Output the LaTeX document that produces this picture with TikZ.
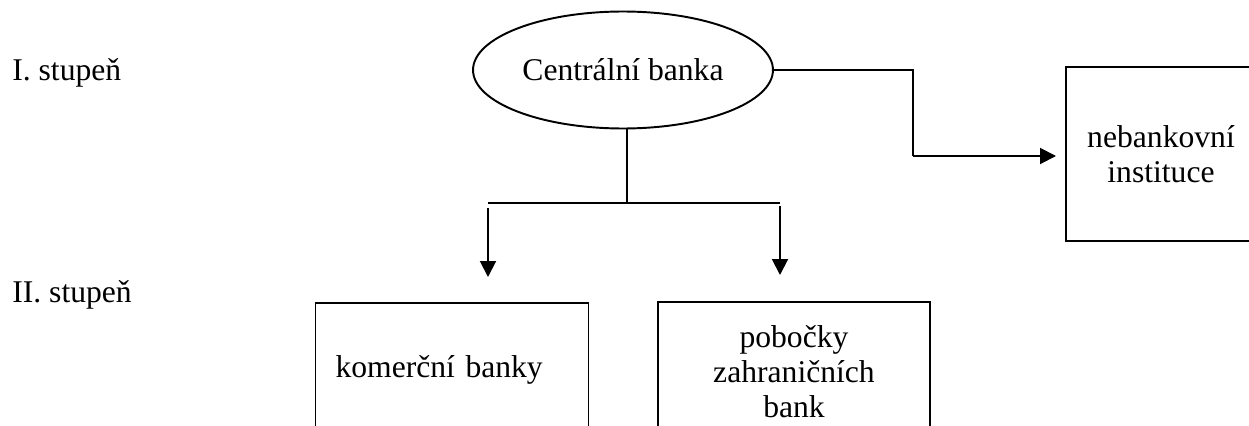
\documentclass[tikz,border=0pt]{standalone}
\usepackage{fontspec}
\setmainfont{Liberation Serif}
\usepackage{tikz}
\usetikzlibrary{shapes.geometric,arrows.meta,positioning,calc}

\tikzset{
  box/.style={draw, line width=1.1pt, outer sep=0pt, inner sep=0pt, align=center,
              font=\fontsize{18}{20}\selectfont},
  lbl/.style={inner sep=0pt, font=\fontsize{18}{20}\selectfont},
  link/.style={line width=1.1pt},
  arr/.style={line width=1.1pt, -{Triangle[width=9pt,length=9pt]}}
}

\begin{document}
\begin{tikzpicture}[x=0.02cm, y=-0.02cm]
            \useasboundingbox (0,0) rectangle (1249,426);
            \clip (0,0) rectangle (1249,426);

            % --- levels ---
            \node[lbl, anchor=base west] (lev1) at (12,80) {I. stupeň};
            \node[lbl, anchor=base west] (lev2) at (12,302) {II. stupeň};

            % --- nodes ---
            \node[box, ellipse, minimum width=6cm, minimum height=2.34cm] (cb) at (623,70) {Centrální banka};
            \node[box, minimum width=3.8cm, minimum height=3.48cm] (nb) at (1161,154) {nebankovní\\instituce};
            \node[box, align=left, text width=4.66cm, inner xsep=0.4cm, minimum height=2.68cm] (kb) at (452,370) {komerční banky};
            \node[box, minimum width=5.44cm, minimum height=2.8cm] (pz) at (794,372) {pobočky\\zahraničních\\bank};

            % --- connector to the right ---
            \coordinate (bend) at (913,156);
            \draw[link] (cb.east) -| (bend);
            \draw[arr, shorten >=5.7pt] (bend) -- (nb.west |- bend);

            % --- fork down ---
            \coordinate (fork) at (627,203);
            \coordinate (forkL) at (488,203);
            \coordinate (forkR) at (780,203);
            \draw[link] (cb.south -| fork) -- (fork);
            \draw[link] (forkL) -- (forkR);
            \draw[arr] ($(forkL)+(0,5)$) -- ($(forkL |- kb.north)+(0,-26)$);
            \draw[arr] ($(forkR)+(0,3)$) -- ($(forkR |- pz.north)+(0,-27)$);
        \end{tikzpicture}
\end{document}
